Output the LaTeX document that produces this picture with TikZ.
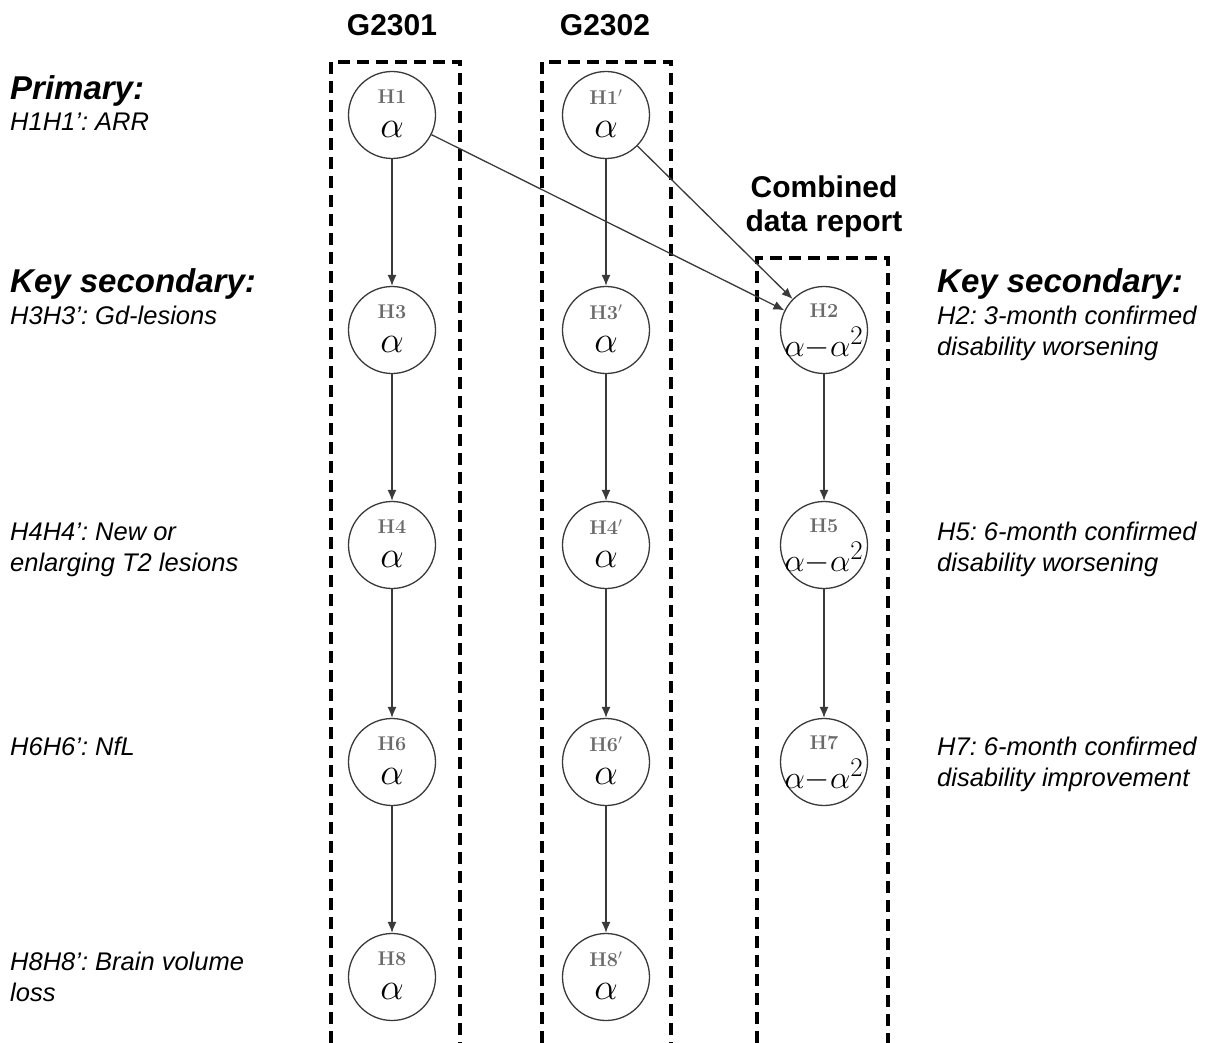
\documentclass[tikz,border=0pt]{standalone}
\usepackage{fontspec}
\newfontfamily\arial{Liberation Sans}
\usetikzlibrary{arrows.meta}
\definecolor{linegray}{HTML}{3A3A3A}
\definecolor{labgray}{HTML}{6A6A6A}
\frenchspacing
\newcommand{\hlabbox}[1]{\scalebox{1.15}{#1}}
\begin{document}
\begin{tikzpicture}[x=1pt,y=-1pt,
  hyp/.style={circle,draw=linegray,line width=1.3pt,minimum size=87pt,inner sep=0pt},
  hlab/.style={font=\LARGE\bfseries,text=labgray,inner sep=0pt},
  hval/.style={font=\Huge,inner sep=0pt},
  arr/.style={draw=linegray,line width=1.3pt,-{Latex[length=11pt,width=9pt]}},
  dbox/.style={draw=black,line width=3.8pt,dash pattern=on 12pt off 7pt},
  ttl/.style={font=\arial\bfseries\fontsize{30}{30}\selectfont,anchor=base,inner sep=0pt},
  head/.style={font=\arial\bfseries\itshape\fontsize{33}{33}\selectfont,anchor=base west,inner sep=0pt},
  desc/.style={font=\arial\itshape\fontsize{25.5}{31}\selectfont,anchor=base west,inner sep=0pt,align=left}
]
\useasboundingbox (0,0) rectangle (1212,1043);
\fill[white] (0,0) rectangle (1212,1043);

% dashed boxes
\draw[dbox] (331,1043) -- (331,62) -- (460,62) -- (460,1043);
\draw[dbox] (542,1043) -- (542,62) -- (671,62) -- (671,1043);
\draw[dbox] (757,1043) -- (757,258) -- (888,258) -- (888,1043);

% titles
\node[ttl] (t1) at (392,36) {G2301};
\node[ttl] (t2) at (605,36) {G2302};
\node[ttl] (t3a) at (824,197) {Combined};
\node[ttl] (t3b) at (824,231) {data report};

% hypothesis nodes (alpha)
\foreach \n/\x/\y/\l in {h1/392/115/H1, h3/392/330/H3, h4/392/545/H4, h6/392/762/H6, h8/392/977/H8,
  h1p/606/115/H1$'$, h3p/606/330/H3$'$, h4p/606/545/H4$'$, h6p/606/762/H6$'$, h8p/606/977/H8$'$}{
  \node[hyp] (\n) at (\x,\y) {};
  \node[hlab] (\n l) at ([yshift=18pt]\n.center) {\hlabbox{\l}};
  \node[hval] (\n v) at ([yshift=-14pt]\n.center) {\scalebox{1.5}{$\alpha$}};
}
% hypothesis nodes (alpha - alpha^2)
\foreach \n/\x/\y/\l in {h2/824/330/H2, h5/824/545/H5, h7/824/762/H7}{
  \node[hyp] (\n) at (\x,\y) {};
  \node[hlab] (\n l) at ([yshift=19pt]\n.center) {\hlabbox{\l}};
  \node[hval] (\n v) at ([yshift=-13pt]\n.center) {\scalebox{1.3}{$\alpha{-}\alpha^2$}};
}

% arrows
\draw[arr] (h1) -- (h3);
\draw[arr] (h3) -- (h4);
\draw[arr] (h4) -- (h6);
\draw[arr] (h6) -- (h8);
\draw[arr] (h1p) -- (h3p);
\draw[arr] (h3p) -- (h4p);
\draw[arr] (h4p) -- (h6p);
\draw[arr] (h6p) -- (h8p);
\draw[arr] (h2) -- (h5);
\draw[arr] (h5) -- (h7);
\draw[arr] (h1) -- (h2);
\draw[arr] (h1p) -- (h2);

% left texts (base = baseline of last line)
\node[head] (lp) at (10,100) {Primary:};
\node[desc] (l1) at (10,131) {H1H1’: ARR};
\node[head] (lk) at (10,292) {Key secondary:};
\node[desc] (l3) at (10,324) {H3H3’: Gd-lesions};
\node[desc] (l4) at (10,571) {H4H4’: New or\\enlarging T2 lesions};
\node[desc] (l6) at (10,755) {H6H6’: NfL};
\node[desc] (l8) at (10,1001) {H8H8’: Brain volume\\loss};

% right texts
\node[head] (rk) at (937,292) {Key secondary:};
\node[desc] (r2) at (937,355) {H2: 3-month confirmed\\disability worsening};
\node[desc] (r5) at (937,571) {H5: 6-month confirmed\\disability worsening};
\node[desc] (r7) at (937,786) {H7: 6-month confirmed\\disability improvement};
\end{tikzpicture}
\end{document}
